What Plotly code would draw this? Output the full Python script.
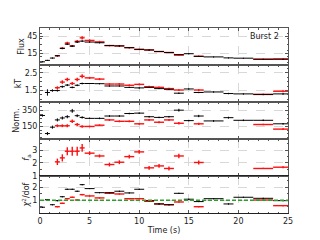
import plotly.graph_objects as go
from plotly.subplots import make_subplots

# ---- data ----
time = [0.25, 0.75, 1.25, 1.75, 2.25, 2.75, 3.25, 3.75, 4.25,
        5, 6, 7, 8, 9, 10, 11, 12, 13, 14, 15, 16, 17.5, 19, 20.5, 22.5, 24.5]
dt = [0.25, 0.25, 0.25, 0.25, 0.25, 0.25, 0.25, 0.25, 0.25,
      0.5, 0.5, 0.5, 0.5, 0.5, 0.5, 0.5, 0.5, 0.5, 0.5, 0.5, 0.5, 1.0, 0.5, 1.0, 1.0, 1.0]

flux_bb = [0.5, 3, 7, 11, 23.7, 31, 27.6, 34.7, 36.3, 34.7, 33.5, 28.6, 28, 25, 22, 21,
           18.3, 16.6, 13, 14.5, 10, 9, 7.3, 6.8, 5, 5]
flux_bb_err = [0.6, 0.7, 0.8, 0.9, 1.2, 1.4, 1.3, 1.5, 1.5, 1.0, 1.0, 0.9, 0.9, 0.8, 0.8, 0.8,
               0.7, 0.7, 0.7, 0.6, 0.6, 0.5, 0.5, 0.5, 0.4, 0.4]
kt_bb = [None, 1.39, 1.5, 1.5, 1.72, 1.81, 1.68, 1.8, 1.9, 1.9, 1.89, 1.76, 1.76, 1.68, 1.65,
         1.68, 1.61, 1.57, 1.35, 1.59, 1.39, 1.42, 1.33, 1.31, 1.28, 1.31]
kt_bb_err = [0, 0.18, 0.07, 0.06, 0.06, 0.06, 0.05, 0.05, 0.05, 0.03, 0.03, 0.03, 0.03, 0.03,
             0.03, 0.03, 0.03, 0.03, 0.04, 0.03, 0.04, 0.03, 0.04, 0.03, 0.03, 0.04]
norm_bb = [287, 55, 137, 230, 255, 271, 346, 284, 262, 250, 250, 280, 280, 312, 317, 271,
           262, 271, 355, 221, 280, 217, 259, 225, 225, 180]
norm_bb_err = [15, 20, 20, 20, 20, 20, 25, 18, 15, 10, 10, 10, 10, 10, 10, 10,
               10, 10, 18, 10, 15, 10, 12, 10, 10, 10]
chi_bb = [0.47, 1.05, 0.66, 0.97, 1.27, 1.84, 1.84, 1.69, 2.19, 1.89, 1.58, 1.58, 1.69, 1.56,
          1.84, 0.97, 0.72, 0.66, 1.53, 1.08, 0.9, 1.12, 0.72, 1.23, 1.15, 0.97]
chi_err = [0.04, 0.04, 0.04, 0.04, 0.04, 0.04, 0.04, 0.04, 0.04, 0.04, 0.04, 0.04, 0.04,
           0.04, 0.04, 0.04, 0.04, 0.04, 0.04, 0.04, 0.04, 0.04, 0.04, 0.04, 0.04, 0.04]

flux_fa = [None, None, None, 11, 24, 33, 28, 36, 42, 37.5, 35, 28.6, 28, 25, 22, 21,
           18.3, 16.6, 12, None, 10, None, None, None, 5, 5.5]
flux_fa_err = [0, 0, 0, 1.2, 1.6, 2.0, 1.8, 2.2, 2.8, 2.0, 1.8, 1.2, 1.2, 1.0, 1.0, 1.0,
               0.9, 0.9, 1.0, 0, 0.8, 0, 0, 0, 0.6, 0.7]
kt_fa = [None, None, None, 1.66, 1.98, 2.13, 1.9, 2.13, 2.31, 2.22, 2.15, 1.87, 1.87, 1.8,
         1.85, 1.72, 1.68, 1.61, 1.53, None, 1.53, None, None, None, 1.28, 1.46]
kt_fa_err = [0, 0, 0, 0.08, 0.1, 0.1, 0.09, 0.1, 0.11, 0.06, 0.06, 0.05, 0.05, 0.05, 0.05,
             0.05, 0.05, 0.05, 0.05, 0, 0.05, 0, 0, 0, 0.04, 0.05]
norm_fa = [None, None, None, 155, 155, 155, 212, 171, 146, 146, 162, 230, 212, 212, 180, 230,
           200, 230, 187, None, 180, None, None, None, 171, 112]
norm_fa_err = [0, 0, 0, 18, 18, 18, 22, 18, 15, 10, 10, 12, 12, 12, 12, 12,
               12, 12, 15, 0, 15, 0, 0, 0, 10, 10]
fa = [None, None, None, 2.09, 2.4, 2.92, 2.92, 2.92, 3.18, 2.77, 2.55, 1.88, 2.06, 2.5, 2.87,
      1.62, 1.77, 1.57, 2.55, None, 2.04, None, None, None, 1.57, 1.67]
fa_err = [0, 0, 0, 0.25, 0.28, 0.32, 0.35, 0.35, 0.3, 0.15, 0.12, 0.15, 0.15, 0.15, 0.15,
          0.15, 0.15, 0.15, 0.18, 0, 0.15, 0, 0, 0, 0.05, 0.08]
chi_fa = [None, None, None, 0.51, 0.77, 1.12, 1.23, 1.02, 1.43, 1.33, 1.18, 1.53, 1.48, 1.12,
          1.12, 0.92, 0.72, 0.66, 0.87, None, 0.51, None, None, None, 1.02, 0.59]

CHI_REF = 1.0
panel_titles = ["Flux", "kT", "Norm.", "<i>f</i><sub>a</sub>", "<i>χ</i><sup>2</sup>/dof"]
y_ranges = [[-5, 59], [0.85, 2.95], [-15, 460], [0.98, 3.88], [0.03, 2.85]]
y_ticks = [[15, 45], [1.5, 2.5], [150, 350], [1, 2, 3], [1, 2]]
y_minor = [10, 0.25, 50, 0.5, 0.5]
x_ticks = [0, 5, 10, 15, 20, 25]

# ---- figure ----
fig = make_subplots(rows=5, cols=1, shared_xaxes=True, vertical_spacing=0)

def add_series(row, y, yerr, color, thick):
    fig.add_trace(go.Scatter(
        x=time, y=y, mode="markers",
        marker=dict(size=1, color=color),
        error_x=dict(type="data", array=dt, color=color, thickness=thick, width=0),
        error_y=dict(type="data", array=yerr, color=color, thickness=thick, width=0),
        showlegend=False, hoverinfo="skip"), row=row, col=1)

red = "#ff1010"
add_series(1, flux_fa, flux_fa_err, red, 1.4)
add_series(1, flux_bb, flux_bb_err, "black", 1.0)
add_series(2, kt_fa, kt_fa_err, red, 1.4)
add_series(2, kt_bb, kt_bb_err, "black", 1.0)
add_series(3, norm_fa, norm_fa_err, red, 1.4)
add_series(3, norm_bb, norm_bb_err, "black", 1.0)
add_series(4, fa, fa_err, red, 1.4)
add_series(5, chi_fa, chi_err, red, 1.4)
add_series(5, chi_bb, chi_err, "black", 1.0)

fig.add_hline(y=CHI_REF, row=5, col=1,
              line=dict(color="#2ca02c", width=1.5, dash="4px,2px"))

font = dict(family="DejaVu Sans", size=8, color="#222")
for i in range(5):
    r = i + 1
    fig.update_yaxes(row=r, col=1, range=y_ranges[i], tickvals=y_ticks[i],
                     title=dict(text=panel_titles[i], font=font, standoff=1),
                     automargin=False,
                     showline=True, mirror="allticks", linecolor="#555", linewidth=1,
                     ticks="inside", ticklen=3, tickcolor="#555", tickfont=font,
                     showgrid=True, gridcolor="#d8d8d8", griddash="dash", gridwidth=0.8,
                     zeroline=False,
                     minor=dict(dtick=y_minor[i], ticks="inside", ticklen=1.5,
                                tickcolor="#555", showgrid=False))
    fig.update_xaxes(row=r, col=1, range=[0, 25], tickvals=x_ticks, automargin=False,
                     showline=True, mirror="allticks", linecolor="#555", linewidth=1,
                     ticks="inside", ticklen=3, tickcolor="#555", tickfont=font,
                     showgrid=True, gridcolor="#d8d8d8", griddash="dash", gridwidth=0.8,
                     zeroline=False,
                     minor=dict(dtick=1, ticks="inside", ticklen=1.5,
                                tickcolor="#555", showgrid=False))
fig.update_xaxes(row=5, col=1, title=dict(text="Time (s)", font=font, standoff=2),
                 linecolor="#222")

fig.add_annotation(xref="x domain", yref="y domain", x=0.97, y=0.76,
                   text="Burst 2", showarrow=False, xanchor="right", yanchor="middle",
                   font=font)

# page body adds an 8px offset, so the figure is sized to fit the 320x240 window
fig.update_layout(width=312, height=232, margin=dict(l=32, r=32, t=20, b=27),
                  paper_bgcolor="white", plot_bgcolor="white", font=font)
fig.write_html("out.html")
